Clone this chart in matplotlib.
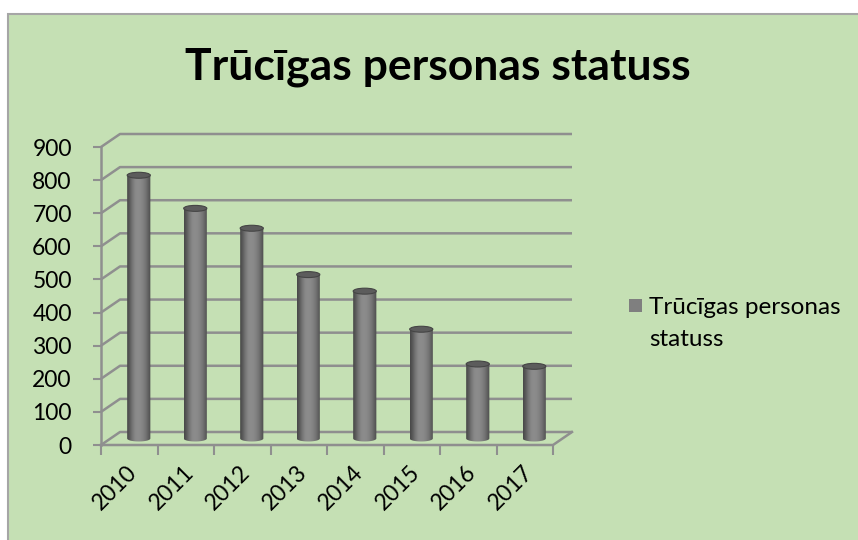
import numpy as np
import matplotlib
matplotlib.use('Agg')
import matplotlib.pyplot as plt
from matplotlib.patches import Rectangle, Ellipse, Polygon

years = ['2010', '2011', '2012', '2013', '2014', '2015', '2016', '2017']
values = [795, 695, 635, 495, 445, 330, 225, 218]
series_name = 'Trūcīgas personas statuss'
yticks = list(range(0, 1000, 100))

plt.rcParams['font.family'] = ['Lato', 'DejaVu Sans']

W, H = 858, 540
fig = plt.figure(figsize=(W / 100, H / 100), dpi=100, facecolor='white')

bg = '#C5E0B4'
line_c = '#8f8f8f'

# chart area background with thin border on top/left
fig.patches.append(Rectangle((8 / W, -0.01), 1.0, (H - 14) / H + 0.01,
                             transform=fig.transFigure, facecolor=bg,
                             edgecolor='#a6a6a6', linewidth=1.5, zorder=-5))

# depth offset of the back wall, in data units
ncat = len(years)
ymax = 900
ddx = 19 / 56.5
ddy = 13 / (298 / ymax)

# axes: front plane x 101..553 px, y 445..147 px
left_px, bot_px = 101, 445
px_per_cat = (553 - 101) / ncat
px_per_val = (445 - 147) / ymax
right_px = left_px + (ncat + ddx) * px_per_cat
top_px = bot_px - (ymax + ddy) * px_per_val
ax = fig.add_axes([left_px / W, (H - bot_px) / H,
                   (right_px - left_px) / W, (bot_px - top_px) / H])
ax.patch.set_alpha(0)
for s in ax.spines.values():
    s.set_visible(False)

lw = 1.8
# side wall and back wall gridlines
for v in yticks:
    ax.plot([0, ddx, ncat + ddx], [v, v + ddy, v + ddy], color=line_c,
            lw=lw, solid_capstyle='butt', zorder=1, clip_on=False)
# floor
ax.plot([0, ncat, ncat + ddx], [0, 0, ddy], color=line_c, lw=lw,
        zorder=1, clip_on=False)
# front vertical axis
ax.plot([0, 0], [0, ymax], color=line_c, lw=lw, zorder=1, clip_on=False)

# cylinders
bw = 0.41
eh = 18  # ellipse height in value units
shade = np.array([0.28, 0.36, 0.46, 0.53, 0.55, 0.54, 0.51, 0.46, 0.38, 0.30])
grad = np.interp(np.linspace(0, 1, 100), np.linspace(0, 1, len(shade)), shade)
grad_img = np.tile(grad, (2, 1))
for i, v in enumerate(values):
    cx = i + 0.5 + ddx / 2
    y0 = ddy / 2
    y1 = y0 + v
    x0, x1 = cx - bw / 2, cx + bw / 2
    # body outline: rectangle plus half-ellipse bottom
    t = np.linspace(np.pi, 2 * np.pi, 40)
    bottom = np.column_stack([cx + bw / 2 * np.cos(t), y0 + eh / 2 * np.sin(t)])
    verts = np.vstack([[[x0, y1]], bottom, [[x1, y1]], [[x0, y1]]])
    body = Polygon(verts, closed=True, facecolor='none', edgecolor='none')
    ax.add_patch(body)
    im = ax.imshow(grad_img, cmap='gray', vmin=0, vmax=1, aspect='auto',
                   extent=[x0, x1, y0 - eh, y1], zorder=3, interpolation='bilinear')
    im.set_clip_path(body)
    ax.add_patch(Ellipse((cx, y1), bw, eh, facecolor='#5c5c5c',
                         edgecolor='#454545', lw=0.8, zorder=4))

ax.set_xlim(0, ncat + ddx)
ax.set_ylim(0, ymax + ddy)

# ticks
ax.set_yticks(yticks)
ax.set_yticklabels([str(t) for t in yticks])
ax.tick_params(axis='y', length=6, width=1.5, color=line_c, pad=15,
               labelsize=16.5, labelcolor='black')
ax.set_xticks(np.arange(ncat) + 0.45)
ax.set_xticklabels(years, rotation=45, ha='right', rotation_mode='anchor',
                   fontsize=16.5)
ax.set_xticks(np.arange(ncat + 1), minor=True)
ax.tick_params(axis='x', which='major', length=0, pad=12)
ax.tick_params(axis='x', which='minor', length=7, width=1.5, color=line_c)

# title
fig.text(438 / W, 1 - 67 / H, series_name, ha='center', va='center',
         fontsize=32, fontweight='bold', color='black')

# legend
sq = 13
fig.patches.append(Rectangle((629 / W, 1 - 312 / H), sq / W, sq / H,
                             transform=fig.transFigure, facecolor='#7f7f7f',
                             edgecolor='none'))
fig.text(649 / W, 1 - 307 / H, 'Trūcīgas personas', ha='left', va='center',
         fontsize=17.5)
fig.text(649 / W, 1 - 339 / H, 'statuss', ha='left', va='center',
         fontsize=17.5)

fig.savefig('out.png', dpi=100, facecolor='white')
